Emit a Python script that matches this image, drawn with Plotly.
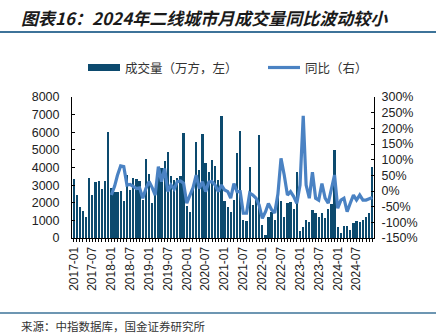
import plotly.graph_objects as go
import pandas as pd

# ---------------- data ----------------
months = [d.strftime("%Y-%m-%d") for d in pd.date_range("2017-01-01", "2024-12-01", freq="MS")]

volume = [
    3370, 2460, 1780, 1520, 1180, 3430, 2460, 3170, 3220, 2800, 3220, 5990,   # 2017
    2860, 2600, 2600, 2650, 2120, 3560, 2700, 3430, 3370, 3240, 2140, 4510,   # 2018
    3620, 2000, 2800, 3750, 4000, 4380, 4870, 3500, 3300, 3400, 3500, 5970,   # 2019
    1820, 1500, 3000, 5430, 3860, 5900, 4260, 3770, 4450, 4110, 3300, 6940,   # 2020
    2100, 1780, 1500, 2160, 4800, 6050, 1000, 970, 4050, 1900, 2160, 5820,    # 2021
    740, 170, 1200, 1500, 1000, 2900, 2100, 1200, 1970, 2070, 1650, 3770,     # 2022
    420, 600, 1020, 930, 1570, 1440, 1180, 1440, 1160, 1650, 1930, 5020,      # 2023
    630, 280, 680, 680, 470, 830, 970, 890, 1020, 1180, 1400, 4040,           # 2024
]

yoy = [None] * 12 + [
    -13, 15, 50, 80, 78, 19, 21, 15, 8, 10, -23, 8,          # 2018
    30, 10, -13, 78, 30, 72, -2, 19, 6, 30, 32, 25,          # 2019
    -39, -13, 10, 51, 8, 30, -2, 28, 30, 19, -2, 19,         # 2020
    3, -2, -23, 24, -2, -2, -71, -71, -7, -13, -23, -45,     # 2021
    -87, -66, -40, -60, -70, -10, 104, 51, -13, -2, -18, -39, # 2022
    19, 240, 19, -23, 60, -23, -29, 24, -23, -39, 9, 51,     # 2023
    -55, -29, -23, -66, -39, -13, -29, -13, -29, -29, -25, -21,  # 2024
]

tick_vals = months[::6]
tick_text = [m[:7] for m in tick_vals]

left_ticks = list(range(0, 8001, 1000))
right_ticks = list(range(-150, 301, 50))
right_text = [f"{v}%" for v in right_ticks]

title_text = "图表16：2024年二线城市月成交量同比波动较小"
source_text = "来源：中指数据库，国金证券研究所"
bar_name = "成交量（万方，左）"
line_name = "同比（右）"

# ---------------- styling ----------------
W, H = 436, 333
PL, PR, PT, PB = 72, 374, 97, 238  # plot area in pixels
BAR = "#0c4a6e"
LINE = "#4a82c3"
RULE = "#3d7399"
CJK = "Noto Sans CJK SC"
LAT = "Liberation Sans"


def px(x):
    return (x - PL) / (PR - PL)


def py(y):
    return (PB - y) / (PB - PT)


fig = go.Figure()
fig.add_bar(
    x=months, y=volume, marker_color=BAR, marker_line_width=0,
    width=0.72 * 30.44 * 86400000, name=bar_name, showlegend=False,
)
fig.add_scatter(
    x=months, y=yoy, yaxis="y2", mode="lines",
    line=dict(color=LINE, width=3.2), name=line_name, showlegend=False,
)

fig.update_layout(
    width=W, height=H,
    margin=dict(l=PL, r=W - PR, t=PT, b=H - PB),
    paper_bgcolor="white", plot_bgcolor="white",
    bargap=0,
    xaxis=dict(
        type="date", range=["2016-12-16", "2024-12-17"],
        tickmode="array", tickvals=tick_vals, ticktext=tick_text,
        tickangle=-90, tickfont=dict(family=LAT, size=12, color="#222"),
        showline=True, linecolor="black", linewidth=1,
        ticks="outside", ticklen=3, tickcolor="black",
        minor=dict(dtick="M1", ticks="outside", ticklen=3, tickcolor="black"),
        showgrid=False, zeroline=False,
    ),
    yaxis=dict(
        range=[0, 8000], tickmode="array", tickvals=left_ticks,
        tickfont=dict(family=LAT, size=12.5, color="#222"),
        ticklabelstandoff=9,
        showline=True, linecolor="black", linewidth=1,
        ticks="inside", ticklen=3, tickcolor="black",
        showgrid=False, zeroline=False,
    ),
    yaxis2=dict(
        range=[-150, 300], tickmode="array", tickvals=right_ticks, ticktext=right_text,
        overlaying="y", side="right",
        tickfont=dict(family=LAT, size=12.5, color="#222"),
        ticklabelstandoff=4,
        showline=True, linecolor="black", linewidth=1,
        ticks="inside", ticklen=3, tickcolor="black",
        showgrid=False, zeroline=False,
    ),
)

shapes = [
    # rule under the title
    dict(type="line", xref="paper", yref="paper", x0=px(0), x1=px(W), y0=py(32), y1=py(32),
         line=dict(color=RULE, width=2)),
    # rule above the source
    dict(type="line", xref="paper", yref="paper", x0=px(0), x1=px(W), y0=py(313), y1=py(313),
         line=dict(color=RULE, width=1.5)),
    # legend swatches
    dict(type="rect", xref="paper", yref="paper", x0=px(88), x1=px(120), y0=py(64), y1=py(71),
         fillcolor=BAR, line=dict(width=0)),
    dict(type="line", xref="paper", yref="paper", x0=px(268), x1=px(300), y0=py(67.5), y1=py(67.5),
         line=dict(color=LINE, width=3.2)),
]

annotations = [
    dict(text="<b><i>" + title_text + "</i></b>", xref="paper", yref="paper",
         x=px(19), y=py(17), xanchor="left", yanchor="middle", showarrow=False,
         font=dict(family=CJK, size=17, color="#1a1a1a")),
    dict(text=bar_name, xref="paper", yref="paper", x=px(123), y=py(67.5),
         xanchor="left", yanchor="middle", showarrow=False,
         font=dict(family=CJK, size=12.5, color="#333")),
    dict(text=line_name, xref="paper", yref="paper", x=px(303), y=py(67.5),
         xanchor="left", yanchor="middle", showarrow=False,
         font=dict(family=CJK, size=12.5, color="#333")),
    dict(text=source_text, xref="paper", yref="paper", x=px(19), y=py(326),
         xanchor="left", yanchor="middle", showarrow=False,
         font=dict(family=CJK, size=11.5, color="#333")),
]

fig.update_layout(shapes=shapes, annotations=annotations)
fig.write_html("out.html")
